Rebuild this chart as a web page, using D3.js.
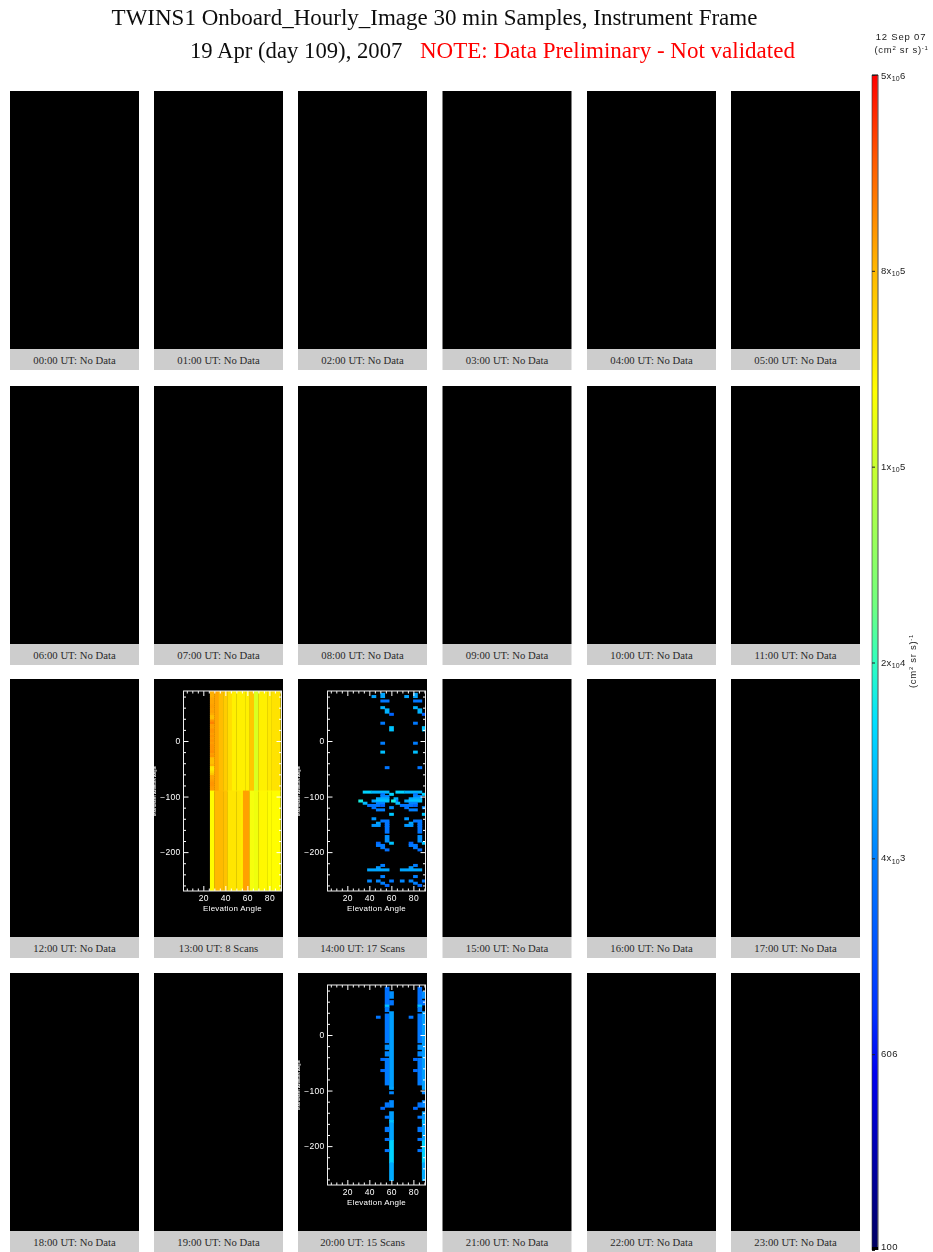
<!DOCTYPE html>
<html><head><meta charset="utf-8">
<script src="https://cdn.jsdelivr.net/npm/d3@7"></script>
<style>html,body{margin:0;padding:0;background:#fff}svg{display:block}</style>
</head><body><svg id="c" width="933" height="1252"></svg>
<script>
const panelLabels = ["00:00 UT: No Data","01:00 UT: No Data","02:00 UT: No Data","03:00 UT: No Data","04:00 UT: No Data","05:00 UT: No Data",
"06:00 UT: No Data","07:00 UT: No Data","08:00 UT: No Data","09:00 UT: No Data","10:00 UT: No Data","11:00 UT: No Data",
"12:00 UT: No Data","13:00 UT: 8 Scans","14:00 UT: 17 Scans","15:00 UT: No Data","16:00 UT: No Data","17:00 UT: No Data",
"18:00 UT: No Data","19:00 UT: No Data","20:00 UT: 15 Scans","21:00 UT: No Data","22:00 UT: No Data","23:00 UT: No Data"];
const titleLine1 = "TWINS1 Onboard_Hourly_Image 30 min Samples, Instrument Frame";
const titleLine2 = "19 Apr (day 109), 2007";
const titleNote = "NOTE: Data Preliminary - Not validated";

// colour bar
const fluxStops = [100,507,870,3684,13000,22360,38000,135720,270000,823800,2300000,5000000];
const fluxColors = ["#000060","#0000f0","#0030ff","#0080ff","#00e0ff","#30ffc0","#70ff80","#c8ff30","#ffff00","#ffb800","#ff5800","#ff0000"];
const barTicks = [100,606.9,3684,22360,135720,823800,5000000];
const barLabels = [["100"],["606"],["4x","10","3"],["2x","10","4"],["1x","10","5"],["8x","10","5"],["5x","10","6"]];

// Cells: [first elevation bin, end elevation bin, first azimuth bin, end azimuth bin, flux]
const scan14Cells = [
[10,11,2,3,6000],[12,13,1,3,6000],[12,14,4,5,3000],[12,13,7,8,7000],[13,14,8,10,7000],[14,15,10,11,2200],
[12,13,14,15,3200],[14,15,16,18,9000],[12,13,23,24,3400],[12,13,27,28,8500],[13,14,34,35,3000],
[8,10,45,46,11000],[10,14,45,46,7500],[12,13,46,47,3200],[14,15,46,47,11000],[12,14,47,48,4000],
[11,14,48,49,6500],[15,16,48,49,7000],[7,8,49,50,17000],[10,11,49,50,6000],[11,14,49,50,9000],[15,16,49,50,3500],
[8,9,50,51,8000],[11,13,50,51,4000],[9,12,51,52,3000],[12,13,51,52,2400],[10,11,52,53,3000],[14,15,52,53,4500],
[11,13,53,54,3600],[14,15,55,56,9500],[10,11,57,58,5000],[12,14,58,59,3200],[11,12,59,60,6000],[13,14,59,60,3000],
[10,12,60,61,5000],[13,14,60,61,3000],[13,14,61,64,3000],[13,14,65,68,4500],[11,12,68,69,2400],[14,15,68,69,9000],
[11,13,69,70,3200],[12,13,70,71,3400],[13,14,71,72,2800],[12,13,78,79,3500],[11,12,79,80,5000],[9,14,80,81,6000],
[12,13,83,84,3600],[9,10,85,86,4000],[11,12,85,86,4000],[14,15,85,86,3200],[12,13,86,87,3600],[13,14,87,88,2400]
];
const scan20Cells = [
[13,14,1,9,2800],[13,14,9,10,9000],[13,14,10,12,3400],[13,14,13,26,3200],[13,14,27,29,4500],[13,14,30,32,4000],
[13,14,33,45,3400],[14,15,3,6,4500],[14,15,7,9,3000],[14,15,12,46,5500],[11,12,14,15,3000],[12,13,33,34,2600],[12,13,38,39,2600],
[14,15,46,47,6000],[14,15,48,49,4000],[14,15,52,55,4200],[13,14,53,55,3000],[12,13,55,56,2500],[14,15,57,61,5500],[13,14,59,60,3200],
[14,15,61,62,9000],[14,15,62,70,6000],[14,15,70,80,11000],[14,15,80,88,6500],[13,14,64,66,3200],[13,14,69,70,3000],[13,14,74,75,3000]
];
const scan13TopColumns = [null,1000000,760000,600000,450000,340000,340000,340000,340000,650000,170000,340000,340000,380000,420000,420000];
const scan13BottomColumns = [280000,800000,800000,700000,400000,400000,400000,370000,1050000,240000,220000,300000,300000,280000,280000,280000];
const scan13Edge = [900000,900000,900000,1000000,1000000,1000000,1050000,1050000,1000000,1050000,950000,750000,750000,1200000,1500000,1100000,1050000,
1200000,1200000,1100000,1200000,1100000,1200000,1100000,1200000,1200000,1200000,1300000,1100000,1200000,750000,750000,750000,900000,380000,380000,500000,650000,1000000,1000000,1100000,1200000,1200000,1100000,1100000];

const secondHeadOffset = 7.43; // the pattern recurs one detector head along, in elevation bins
const elevationDomain = [2,91], azimuthDomain = [90,-270];
const elevMajor = [20,40,60,80], elevMinor = d3.range(5,91,5).filter(d=>d%20);
const azMajor = [0,-100,-200], azMinor = d3.range(80,-270,-20).filter(d=>d%100);

const panelX = [10,154,298,442.5,587,731], panelY = [91,386,679,973];
const panelW = 129, panelH = 258, labelH = 21;

const svg = d3.select("#c");
const serif = "'Liberation Serif','Times New Roman',serif", sans = "'Liberation Sans',Arial,sans-serif";
const defs = svg.append("defs");
defs.append("filter").attr("id","soft").attr("filterUnits","userSpaceOnUse").attr("x",-40).attr("y",-20).attr("width",160).attr("height",260)
  .append("feGaussianBlur").attr("stdDeviation",0.45);
defs.append("filter").attr("id","softer").attr("filterUnits","userSpaceOnUse").attr("x",0).attr("y",0).attr("width",933).attr("height",1252)
  .append("feGaussianBlur").attr("stdDeviation",0.3);

// Title
const titles = svg.append("g").attr("filter","url(#softer)");
titles.append("text").attr("x",434.5).attr("y",25).attr("text-anchor","middle").attr("font-family",serif).attr("font-size",23).attr("fill","#111").text(titleLine1);
titles.append("text").attr("x",190).attr("y",58).attr("font-family",serif).attr("font-size",22.7).attr("fill","#111").text(titleLine2);
titles.append("text").attr("x",420).attr("y",58).attr("font-family",serif).attr("font-size",23).attr("fill","#f00").text(titleNote);

const color = d3.scaleLog().domain(fluxStops).range(fluxColors).clamp(true);
const xE = d3.scaleLinear().domain(elevationDomain).range([0,98]);
const yA = d3.scaleLinear().domain(azimuthDomain).range([0,200]);
const binE = b => 2+4*b, binA = r => 90-4*r;

function cellsFor(i){
  if(i===14||i===20){
    const src = i===14?scan14Cells:scan20Cells;
    return src.concat(src.map(c=>[c[0]+secondHeadOffset,Math.min(c[1]+secondHeadOffset,22.25),c[2],c[3],c[4]]));
  }
  if(i===13){
    const out=[];
    scan13Edge.forEach((v,r)=>out.push([6,7,r,r+1,v]));
    scan13TopColumns.forEach((v,k)=>{ if(v) out.push([6+k,7+k,0,45,v]); });
    scan13BottomColumns.forEach((v,k)=>{
      const from = k===8?13.5:(k===9?15:6+k);
      const to = k===7?13.5:(k===8?15:7+k);
      out.push([from,to,45,90,v]);
    });
    return out;
  }
  return [];
}

panelLabels.forEach((lab,i)=>{
  const px = panelX[i%6], py = panelY[Math.floor(i/6)];
  const g = svg.append("g").attr("transform",`translate(${px},${py})`);
  g.append("rect").attr("width",panelW).attr("height",panelH).attr("fill","#000");
  g.append("rect").attr("y",panelH).attr("width",panelW).attr("height",labelH).attr("fill","#cdcdcd");
  g.append("text").attr("x",panelW/2).attr("y",panelH+15).attr("text-anchor","middle")
    .attr("font-family",serif).attr("font-size",10.7).attr("fill","#2a2a2a").text(lab);
  if(![13,14,20].includes(i)) return;
  const plot = g.append("g").attr("transform","translate(29.5,12)").attr("filter","url(#soft)");
  const cid = "clip"+i;
  defs.append("clipPath").attr("id",cid).append("rect").attr("width",98).attr("height",200);
  plot.append("g").attr("clip-path",`url(#${cid})`).selectAll("rect").data(cellsFor(i)).join("rect")
    .attr("x",d=>xE(binE(d[0]))).attr("width",d=>xE(binE(d[1]))-xE(binE(d[0]))+0.3)
    .attr("y",d=>yA(binA(d[2]))-0.4).attr("height",d=>yA(binA(d[3]))-yA(binA(d[2]))+0.8)
    .attr("fill",d=>color(d[4]));
  const style = s => { s.select(".domain").remove(); s.selectAll("line").attr("stroke","#fff");
    s.selectAll("text").attr("fill","#fff").attr("font-family",sans).attr("font-size",8.5).attr("letter-spacing",0.3); };
  plot.append("g").attr("transform","translate(0,200)").call(d3.axisBottom(xE).tickValues(elevMajor).tickSize(-5).tickPadding(4).tickFormat(d3.format("d"))).call(style);
  plot.append("g").attr("transform","translate(0,200)").call(d3.axisBottom(xE).tickValues(elevMinor).tickSize(-2.5).tickFormat("")).call(style);
  plot.append("g").call(d3.axisTop(xE).tickValues(elevMajor).tickSize(-5).tickFormat("")).call(style);
  plot.append("g").call(d3.axisTop(xE).tickValues(elevMinor).tickSize(-2.5).tickFormat("")).call(style);
  plot.append("g").call(d3.axisLeft(yA).tickValues(azMajor).tickSize(-5).tickPadding(3).tickFormat(d3.format("d"))).call(style);
  plot.append("g").call(d3.axisLeft(yA).tickValues(azMinor).tickSize(-2.5).tickFormat("")).call(style);
  plot.append("g").attr("transform","translate(98,0)").call(d3.axisRight(yA).tickValues(azMajor).tickSize(-5).tickFormat("")).call(style);
  plot.append("g").attr("transform","translate(98,0)").call(d3.axisRight(yA).tickValues(azMinor).tickSize(-2.5).tickFormat("")).call(style);
  plot.append("rect").attr("width",98).attr("height",200).attr("fill","none").attr("stroke","#eee").attr("stroke-width",1);
  plot.append("text").attr("x",49).attr("y",220).attr("text-anchor","middle").attr("fill","#fff").attr("font-family",sans).attr("font-size",8).attr("letter-spacing",0.25).text("Elevation Angle");
  plot.append("text").attr("transform","translate(-27.5,100) rotate(-90)").attr("text-anchor","middle").attr("fill","#fff").attr("font-weight","bold")
    .attr("font-family",sans).attr("font-size",3.8).attr("textLength",50).text("Instrument Azimuth Angle");
});

// Colour bar
const yBar = d3.scaleLog().domain([100,5000000]).range([1250,75]);
const grad = defs.append("linearGradient").attr("id","bar").attr("x1",0).attr("x2",0).attr("y1",1).attr("y2",0);
fluxStops.forEach((v,k)=>grad.append("stop").attr("offset",(1250-yBar(v))/1175).attr("stop-color",fluxColors[k]));
svg.append("rect").attr("x",872).attr("y",75).attr("width",6).attr("height",1175).attr("fill","url(#bar)");
svg.append("line").attr("x1",878).attr("x2",878).attr("y1",75).attr("y2",1250).attr("stroke","#666").attr("stroke-width",1.2);
svg.append("line").attr("x1",872).attr("x2",872).attr("y1",75).attr("y2",1250).attr("stroke","#333").attr("stroke-width",0.6);
svg.append("line").attr("x1",872).attr("x2",878).attr("y1",75).attr("y2",75).attr("stroke","#000");
svg.append("rect").attr("x",872).attr("y",1247).attr("width",6).attr("height",3).attr("fill","#000");
const barAxis = svg.append("g").attr("transform","translate(872,0)").call(d3.axisRight(yBar).tickValues(barTicks).tickSize(3).tickFormat(""));
barAxis.select(".domain").remove(); barAxis.selectAll("line").attr("stroke","#222");
const side = svg.append("g").attr("filter","url(#softer)");
side.selectAll("text.bl").data(barTicks).join("text").attr("class","bl")
  .attr("x",881).attr("y",(d,k)=>k===6?yBar(d)+3.5:(k===0?yBar(d)+0:yBar(d)+3))
  .attr("font-family",sans).attr("font-size",9.5).attr("letter-spacing",0.3).attr("fill","#222")
  .each(function(d,k){
    const t=d3.select(this), p=barLabels[k];
    t.append("tspan").text(p[0]);
    if(p.length>1){ t.append("tspan").attr("font-size",7).attr("dy",2.5).text(p[1]); t.append("tspan").attr("dy",-2.5).text(p[2]); }
  });
side.append("text").attr("x",901).attr("y",40).attr("text-anchor","middle").attr("font-family",sans).attr("font-size",9.5).attr("letter-spacing",0.8).attr("fill","#222").text("12 Sep 07");
function unitText(sel){
  sel.attr("font-family",sans).attr("font-size",9.5).attr("letter-spacing",0.7).attr("fill","#222").attr("text-anchor","middle");
  sel.append("tspan").text("(cm");
  sel.append("tspan").attr("font-size",6).attr("dy",-3).text("2");
  sel.append("tspan").attr("dy",3).text(" sr s)");
  sel.append("tspan").attr("font-size",6).attr("dy",-3).text("-1");
}
side.append("text").attr("x",901.5).attr("y",53).call(unitText);
side.append("text").attr("transform","translate(916,661) rotate(-90)").call(unitText);
</script></body></html>
